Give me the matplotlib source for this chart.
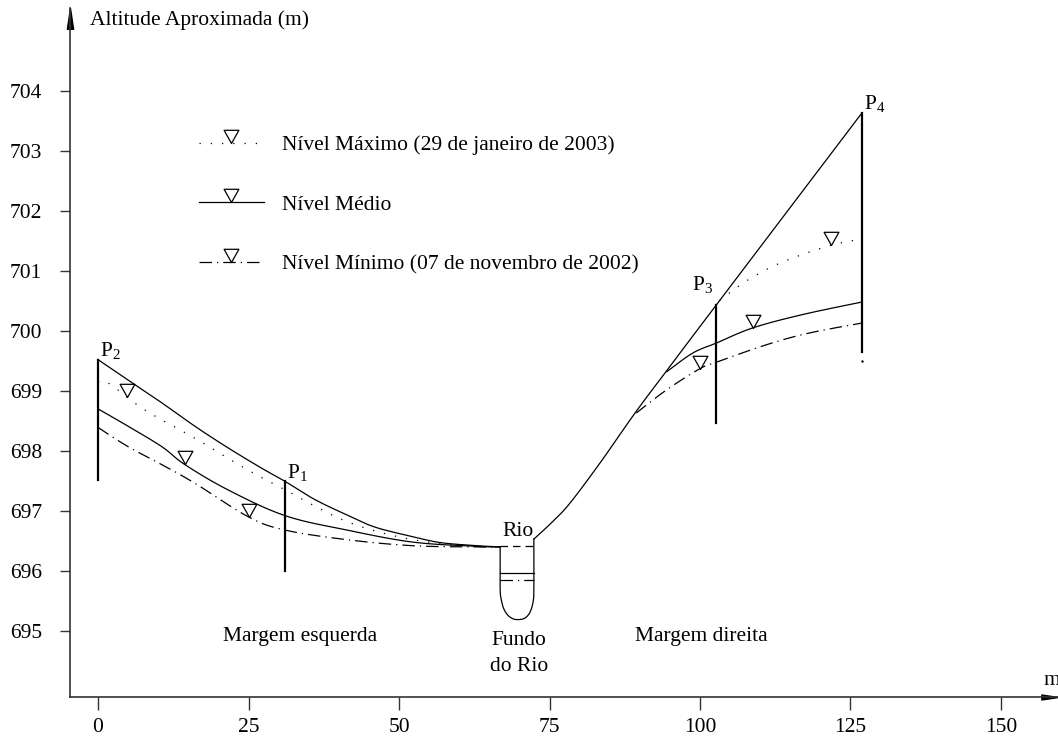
import numpy as np
import matplotlib
matplotlib.use("Agg")
import matplotlib.pyplot as plt
from matplotlib.lines import Line2D
from matplotlib.path import Path

plt.rcParams['font.family'] = ['Liberation Serif', 'DejaVu Serif']
plt.rcParams['mathtext.fontset'] = 'custom'
plt.rcParams['mathtext.rm'] = 'Liberation Serif'

# terreno (margem esquerda e direita)
ground_left_x = [0.0, 6.15, 10.6, 16.1, 21.6, 27.2, 31.1, 36.0, 41.4, 46.0, 52.3, 57.0, 63.0, 66.8]
ground_left_y = [699.52, 699.10, 698.80, 698.41, 698.05, 697.71, 697.49, 697.19, 696.93, 696.73, 696.57, 696.47, 696.42, 696.40]
ground_right_x = [72.4, 75.5, 78.4, 83.4, 89.2, 94.5, 102.7, 126.9]
ground_right_y = [696.53, 696.82, 697.13, 697.80, 698.63, 699.34, 700.43, 703.63]

# leito do rio
river_x = [66.8, 66.8, 67.0, 67.4, 68.1, 69.0, 70.0, 71.0, 71.8, 72.3, 72.4, 72.4]
river_y = [696.40, 695.70, 695.52, 695.37, 695.26, 695.20, 695.19, 695.22, 695.32, 695.50, 695.72, 696.53]

# níveis d'água
max_left_x = [0.0, 1.7, 7.8, 16.1, 24.4, 31.1, 41.4, 52.3, 63.0, 66.8]
max_left_y = [699.15, 699.13, 698.68, 698.21, 697.71, 697.35, 696.82, 696.52, 696.41, 696.40]
max_right_x = [103.3, 108.0, 113.8, 121.6, 126.9]
max_right_y = [700.51, 700.85, 701.15, 701.42, 701.53]

mid_left_x = [0.0, 5.0, 10.6, 14.45, 21.6, 31.1, 41.4, 52.3, 63.0, 66.8]
mid_left_y = [698.70, 698.41, 698.07, 697.77, 697.35, 696.92, 696.68, 696.48, 696.41, 696.40]
mid_right_x = [94.5, 98.8, 102.8, 108.8, 117.0, 126.9]
mid_right_y = [699.32, 699.63, 699.80, 700.05, 700.27, 700.48]

min_left_x = [0.0, 5.0, 10.6, 16.1, 25.0, 31.1, 41.4, 52.3, 63.0, 66.8]
min_left_y = [698.39, 698.07, 697.77, 697.46, 696.90, 696.68, 696.52, 696.42, 696.40, 696.40]
min_right_x = [89.4, 94.5, 100.0, 102.8, 111.1, 118.0, 126.9]
min_right_y = [698.63, 699.02, 699.37, 699.48, 699.77, 699.96, 700.13]

# nível no canal do rio
river_level_x = [66.8, 72.4]
river_max_y = 696.42
river_mid_y = 695.97
river_min_y = 695.85

# marcadores de nível (x)
marker_max_x = [4.8, 121.8]
marker_mid_x = [14.4, 108.8]
marker_min_x = [25.0, 100.0]

# pontos P1..P4: x, base, topo
p_names = ['1', '2', '3', '4']
p_x = [31.1, 0.0, 102.7, 126.9]
p_bottom = [696.0, 697.52, 698.47, 699.65]
p_top = [697.49, 699.52, 700.43, 703.63]

x_ticks = [0, 25, 50, 75, 100, 125, 150]
y_ticks = [695, 696, 697, 698, 699, 700, 701, 702, 703, 704]


def suave(xs, ys, n=12):
    """Catmull-Rom pelos pontos lidos, só para o traçado ficar liso."""
    p = np.column_stack([xs, ys]).astype(float)
    p = np.vstack([p[0], p, p[-1]])
    out = []
    t = np.linspace(0, 1, n, endpoint=False)[:, None]
    for i in range(1, len(p) - 2):
        p0, p1, p2, p3 = p[i - 1], p[i], p[i + 1], p[i + 2]
        out.append(0.5 * ((2 * p1) + (-p0 + p2) * t
                          + (2 * p0 - 5 * p1 + 4 * p2 - p3) * t ** 2
                          + (-p0 + 3 * p1 - 3 * p2 + p3) * t ** 3))
    out.append(p[-2][None, :])
    out = np.vstack(out)
    return out[:, 0], out[:, 1]


# triângulo invertido com a ponta na origem
tri = Path([(-0.56, 1.0), (0.56, 1.0), (0.0, 0.0), (-0.56, 1.0)],
           [Path.MOVETO, Path.LINETO, Path.LINETO, Path.CLOSEPOLY])
mk = dict(marker=tri, markersize=19, markerfacecolor='white',
          markeredgecolor='black', markeredgewidth=0.9)

# pontas de seta dos eixos (ponta na origem)
seta_y = Path([(-0.15, -1.0), (0.15, -1.0), (0.0, 0.0), (-0.15, -1.0)],
              [Path.MOVETO, Path.LINETO, Path.LINETO, Path.CLOSEPOLY])
seta_x = Path([(-1.0, -0.15), (-1.0, 0.15), (0.0, 0.0), (-1.0, -0.15)],
              [Path.MOVETO, Path.LINETO, Path.LINETO, Path.CLOSEPOLY])

dotted = (0, (1, 8))
dashdot = (0, (10, 4, 1, 4))

fig = plt.figure(figsize=(10.58, 7.37), dpi=100)
ax = fig.add_axes([0.0662, 0.0543, 0.9338, 0.935])
ax.set_xlim(-4.65, 159.47)
ax.set_ylim(693.9, 705.38)

lw = 0.9
ax.plot(*suave(ground_left_x, ground_left_y), color='black', lw=lw)
ax.plot(*suave(ground_right_x, ground_right_y), color='black', lw=lw)
ax.plot(*suave(river_x, river_y), color='black', lw=lw)

ax.plot(*suave(max_left_x, max_left_y), color='black', lw=lw, linestyle=dotted)
ax.plot(*suave(max_right_x, max_right_y), color='black', lw=lw, linestyle=dotted)
ax.plot(*suave(mid_left_x, mid_left_y), color='black', lw=lw)
ax.plot(*suave(mid_right_x, mid_right_y), color='black', lw=lw)
ax.plot(*suave(min_left_x, min_left_y), color='black', lw=lw, linestyle=dashdot)
ax.plot(*suave(min_right_x, min_right_y), color='black', lw=lw, linestyle=dashdot)

ax.plot(river_level_x, [river_max_y] * 2, color='black', lw=lw, linestyle=(0, (6, 4)))
ax.plot(river_level_x, [river_mid_y] * 2, color='black', lw=lw)
ax.plot(river_level_x, [river_min_y] * 2, color='black', lw=lw, linestyle=dashdot)

# marcadores sobre as curvas
for mx, cx, cy in [(marker_max_x[:1], max_left_x, max_left_y),
                   (marker_max_x[1:], max_right_x, max_right_y),
                   (marker_mid_x[:1], mid_left_x, mid_left_y),
                   (marker_mid_x[1:], mid_right_x, mid_right_y),
                   (marker_min_x[:1], min_left_x, min_left_y),
                   (marker_min_x[1:], min_right_x, min_right_y)]:
    ax.plot(mx, np.interp(mx, cx, cy), linestyle='none', **mk)

fs = 15.5

# réguas P1..P4
for name, x, y0, y1 in zip(p_names, p_x, p_bottom, p_top):
    ax.plot([x, x], [y0, y1], color='black', lw=1.6)
    if name == '3':
        ax.text(x - 0.5, y1 + 0.15, r'P$_{\mathrm{%s}}$' % name, fontsize=fs,
                ha='right', va='bottom')
    else:
        ax.text(x + 0.3, y1 - 0.04, r'P$_{\mathrm{%s}}$' % name, fontsize=fs,
                ha='left', va='bottom')
ax.plot([126.9], [699.5], marker='.', markersize=1.5, color='black')

ax.text(69.8, 696.66, 'Rio', fontsize=fs, ha='center', va='center')
ax.text(69.9, 694.63, 'Fundo\ndo Rio', fontsize=fs, ha='center', va='center',
        linespacing=1.5)
ax.text(33.6, 694.9, 'Margem esquerda', fontsize=fs, ha='center', va='center')
ax.text(100.3, 694.9, 'Margem direita', fontsize=fs, ha='center', va='center')
ax.text(-1.3, 705.18, 'Altitude Aproximada (m)', fontsize=fs, ha='left', va='center')
ax.text(157.0, 694.18, 'm', fontsize=fs, ha='left', va='center', clip_on=False)

handles = [Line2D([], [], color='black', lw=lw, linestyle=ls, **mk)
           for ls in [dotted, '-', dashdot]]
labels = ['Nível Máximo (29 de janeiro de 2003)', 'Nível Médio',
          'Nível Mínimo (07 de novembro de 2002)']
ax.legend(handles, labels, loc='upper left', bbox_to_anchor=(199 / 1058, 1 - 135 / 737),
          bbox_transform=fig.transFigure, frameon=False, fontsize=fs, numpoints=1,
          handlelength=3.0, handletextpad=0.85, labelspacing=1.85, borderpad=0,
          borderaxespad=0)

# eixos com setas
for s in ['top', 'right']:
    ax.spines[s].set_visible(False)
for s in ['left', 'bottom']:
    ax.spines[s].set_color('#333333')
    ax.spines[s].set_linewidth(1.2)
ax.plot(0, 1, marker=seta_y, color='black', markersize=30, transform=ax.transAxes,
        clip_on=False)
ax.plot(1, 0, marker=seta_x, color='black', markersize=24, transform=ax.transAxes,
        clip_on=False)

ax.set_xticks(x_ticks)
ax.set_yticks(y_ticks)
ax.tick_params(axis='y', direction='out', length=7, width=1, colors='#333333',
               labelcolor='black', labelsize=fs, pad=13)
ax.tick_params(axis='x', direction='out', length=9, width=1, colors='#333333',
               labelcolor='black', labelsize=fs, pad=6)

fig.savefig('out.png', dpi=100)
